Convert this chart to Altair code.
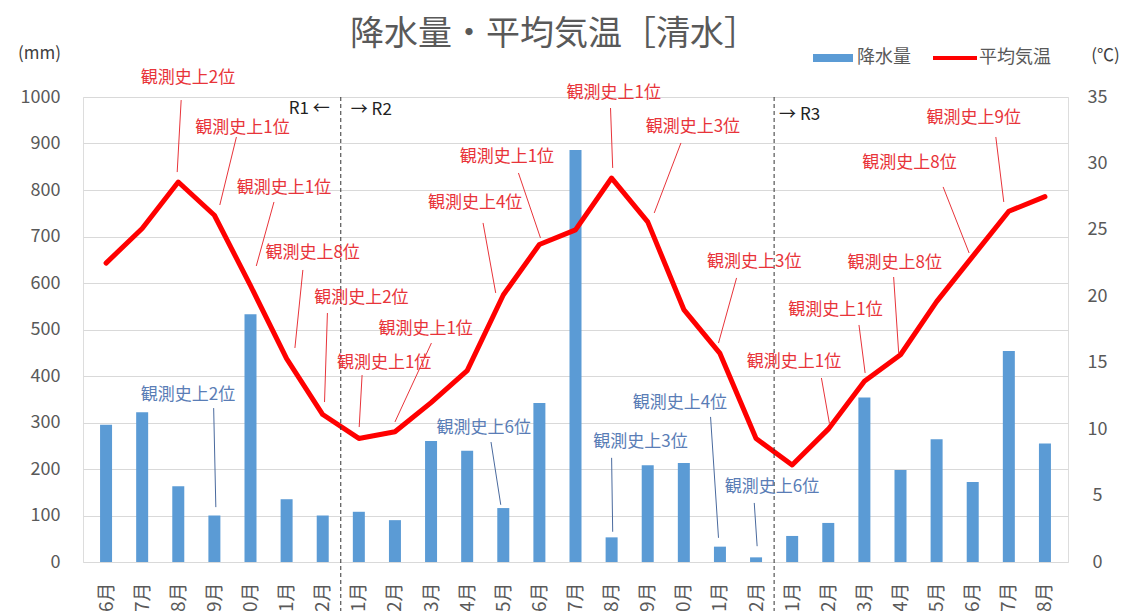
import altair as alt
import pandas as pd

FONT = "Noto Sans CJK JP"

months = ["6月", "7月", "8月", "9月", "10月", "11月", "12月", "1月", "2月", "3月", "4月", "5月",
          "6月", "7月", "8月", "9月", "10月", "11月", "12月", "1月", "2月", "3月", "4月", "5月",
          "6月", "7月", "8月"]
precip = [295, 322, 163, 100, 533, 135, 100, 108, 90, 260, 239, 116, 342, 886, 53, 208, 213,
          33, 10, 56, 84, 354, 198, 264, 172, 454, 255]
temp = [22.5, 25.1, 28.6, 26.1, 20.8, 15.3, 11.1, 9.3, 9.8, 12.0, 14.4, 20.1, 23.9, 25.0, 28.9,
        25.6, 19.0, 15.7, 9.3, 7.3, 10.0, 13.6, 15.6, 19.6, 23.0, 26.4, 27.5]

# temperature record annotations (x in month index units, y in degC)
t_label = ["観測史上2位", "観測史上1位", "観測史上1位", "観測史上8位", "観測史上2位", "観測史上1位",
           "観測史上1位", "観測史上4位", "観測史上1位", "観測史上1位", "観測史上3位", "観測史上3位",
           "観測史上1位", "観測史上1位", "観測史上8位", "観測史上8位", "観測史上9位"]
t_tx = [2.27, 3.78, 4.93, 5.72, 7.07, 8.85, 7.70, 10.22, 11.10, 14.06, 16.25, 17.95, 19.05, 20.20,
        21.84, 22.25, 24.03]
t_ty = [36.43, 32.67, 28.15, 23.26, 19.87, 17.54, 14.98, 27.02, 30.48, 35.30, 32.74, 22.58, 15.05,
        18.97, 22.51, 30.03, 33.42]
t_x1 = [2.08, 3.61, 4.65, 5.45, 6.13, 9.01, 7.09, 10.44, 11.42, 13.97, 15.92, 17.46, 19.81, 20.85,
        21.81, 23.18, 24.64]
t_y1 = [34.77, 31.99, 27.10, 21.98, 18.74, 16.48, 14.07, 25.52, 29.28, 34.17, 31.54, 21.38, 13.85,
        17.84, 21.45, 28.23, 31.99]
t_x2 = [1.97, 3.15, 4.16, 5.23, 6.05, 8.00, 7.01, 10.79, 12.03, 14.03, 15.18, 16.96, 20.03, 21.02,
        21.95, 23.90, 24.86]
t_y2 = [29.35, 26.87, 22.28, 16.11, 12.04, 10.54, 10.16, 20.25, 24.39, 29.66, 26.27, 16.48, 10.46,
        14.23, 15.73, 23.26, 27.10]

# precipitation record annotations (x in month index units, y in mm)
p_label = ["観測史上2位", "観測史上6位", "観測史上3位", "観測史上4位", "観測史上6位"]
p_tx = [2.27, 10.46, 14.80, 15.89, 18.44]
p_ty = [359, 288, 258, 342, 161]
p_x1 = [2.98, 10.66, 14.00, 16.74, 17.95]
p_y1 = [331, 258, 224, 312, 127]
p_x2 = [3.04, 10.93, 14.03, 16.96, 18.03]
p_y2 = [118, 123, 65, 52, 34]

# period separators
sep_x = [6.5, 6.5, 18.5]
sep_text = ["R1 ←", "→ R2", "→ R3"]
sep_align = ["right", "left", "left"]
sep_dx = [-11, 10, 5]
sep_y = [974, 972, 962]

df = pd.DataFrame({"idx": list(range(len(months))), "month": months, "precip": precip, "temp": temp})
tdf = pd.DataFrame({"label": t_label, "tx": t_tx, "ty": t_ty, "x1": t_x1, "y1": t_y1, "x2": t_x2, "y2": t_y2})
pdf = pd.DataFrame({"label": p_label, "tx": p_tx, "ty": p_ty, "x1": p_x1, "y1": p_y1, "x2": p_x2, "y2": p_y2})
sdf = pd.DataFrame({"x": sep_x, "text": sep_text, "align": sep_align, "dx": sep_dx, "y": sep_y})
vdf = pd.DataFrame({"x": [6.5, 18.5], "top": [1000, 1000], "bottom": [-106, -106]})
one = pd.DataFrame({"a": [0]})

GREY = "#595959"
RED_TXT = "#E8343A"
BLUE_TXT = "#5A7DB6"

label_expr = "[" + ",".join("'" + m + "'" for m in months) + "][datum.value]"
xscale = alt.Scale(domain=[-0.5, len(months) - 0.5], nice=False, zero=False)
xaxis = alt.Axis(values=list(range(len(months))), labelExpr=label_expr, labelAngle=-90,
                 labelFontSize=19, labelColor=GREY, labelPadding=20, grid=False, domain=False,
                 ticks=False, tickSize=0, title=None, labelFont=FONT)
pscale = alt.Scale(domain=[0, 1000], nice=False, zero=False)
tscale = alt.Scale(domain=[0, 35], nice=False, zero=False)


def X(f):
    return alt.X(f, type="quantitative", scale=xscale, axis=xaxis)


bars = alt.Chart(df).mark_bar(color="#5B9BD5", size=12).encode(
    x=X("idx"),
    y=alt.Y("precip:Q", scale=pscale,
            axis=alt.Axis(values=list(range(0, 1001, 100)), format="d", grid=True, gridColor="#D9D9D9",
                          domain=False, ticks=False, tickSize=0, labelFontSize=18,
                          labelColor=GREY, labelPadding=23, labelFont=FONT,
                          title="(mm)", titleAngle=0, titleX=-44, titleY=-44,
                          titleAlign="center", titleBaseline="middle", titleFontSize=17,
                          titleFontWeight="normal", titleColor="#404040", titleFont=FONT)),
)

line = alt.Chart(df).mark_line(color="#FF0000", strokeWidth=5, strokeJoin="round", strokeCap="round").encode(
    x=X("idx"),
    y=alt.Y("temp:Q", scale=tscale,
            axis=alt.Axis(orient="right", values=list(range(0, 36, 5)), grid=False, domain=False,
                          ticks=False, tickSize=0, labelFontSize=18, labelColor=GREY,
                          labelPadding=29, labelAlign="center", labelFont=FONT,
                          title="(℃)", titleAngle=0, titleX=37, titleY=-42,
                          titleAlign="center", titleBaseline="middle", titleFontSize=17,
                          titleFontWeight="normal", titleColor="#404040", titleFont=FONT)),
)

t_rules = alt.Chart(tdf).mark_rule(color=RED_TXT, strokeWidth=1).encode(
    x=X("x1"), x2="x2",
    y=alt.Y("y1:Q", scale=tscale, axis=None), y2="y2",
)
t_text = alt.Chart(tdf).mark_text(color=RED_TXT, fontSize=17, font=FONT, align="center",
                                  baseline="middle").encode(
    x=X("tx"), y=alt.Y("ty:Q", scale=tscale, axis=None), text="label:N",
)

p_rules = alt.Chart(pdf).mark_rule(color="#4A6A9E", strokeWidth=1).encode(
    x=X("x1"), x2="x2",
    y=alt.Y("y1:Q", scale=pscale, axis=None), y2="y2",
)
p_text = alt.Chart(pdf).mark_text(color=BLUE_TXT, fontSize=17, font=FONT, align="center",
                                  baseline="middle").encode(
    x=X("tx"), y=alt.Y("ty:Q", scale=pscale, axis=None), text="label:N",
)

vlines = alt.Chart(vdf).mark_rule(color="#333333", strokeWidth=1, strokeDash=[4, 3]).encode(
    x=X("x"), y=alt.Y("top:Q", scale=pscale, axis=None), y2="bottom",
)

sep_texts = []
for i in range(len(sep_x)):
    sep_texts.append(
        alt.Chart(sdf.iloc[[i]]).mark_text(color="#222222", fontSize=17, font=FONT,
                                           align=sep_align[i], dx=sep_dx[i], baseline="middle").encode(
            x=X("x"), y=alt.Y("y:Q", scale=pscale, axis=None), text="text:N",
        )
    )

title = alt.Chart(one).mark_text(text="降水量・平均気温［清水］", fontSize=34, font=FONT, color=GREY,
                                 align="center", baseline="middle").encode(
    x=alt.value(471), y=alt.value(-62))

leg_rect = alt.Chart(one).mark_rect(color="#5B9BD5").encode(
    x=alt.value(730), x2=alt.value(770), y=alt.value(-43), y2=alt.value(-35))
leg_t1 = alt.Chart(one).mark_text(text="降水量", fontSize=18, font=FONT, color=GREY, align="left",
                                  baseline="middle").encode(x=alt.value(774), y=alt.value(-39))
leg_line = alt.Chart(one).mark_rule(color="#FF0000", strokeWidth=4).encode(
    x=alt.value(850), x2=alt.value(894), y=alt.value(-39))
leg_t2 = alt.Chart(one).mark_text(text="平均気温", fontSize=18, font=FONT, color=GREY, align="left",
                                  baseline="middle").encode(x=alt.value(896), y=alt.value(-39))

chart = alt.layer(
    bars, line, vlines, t_rules, t_text, p_rules, p_text, *sep_texts,
    title, leg_rect, leg_t1, leg_line, leg_t2,
).resolve_scale(y="independent").properties(
    width=985, height=465,
    autosize=alt.AutoSizeParams(type="none"),
    padding={"left": 75, "top": 89, "right": 60, "bottom": 49},
).configure_view(stroke=None).configure(font=FONT)

chart.save("out.html", embed_options={"renderer": "svg", "actions": False})
